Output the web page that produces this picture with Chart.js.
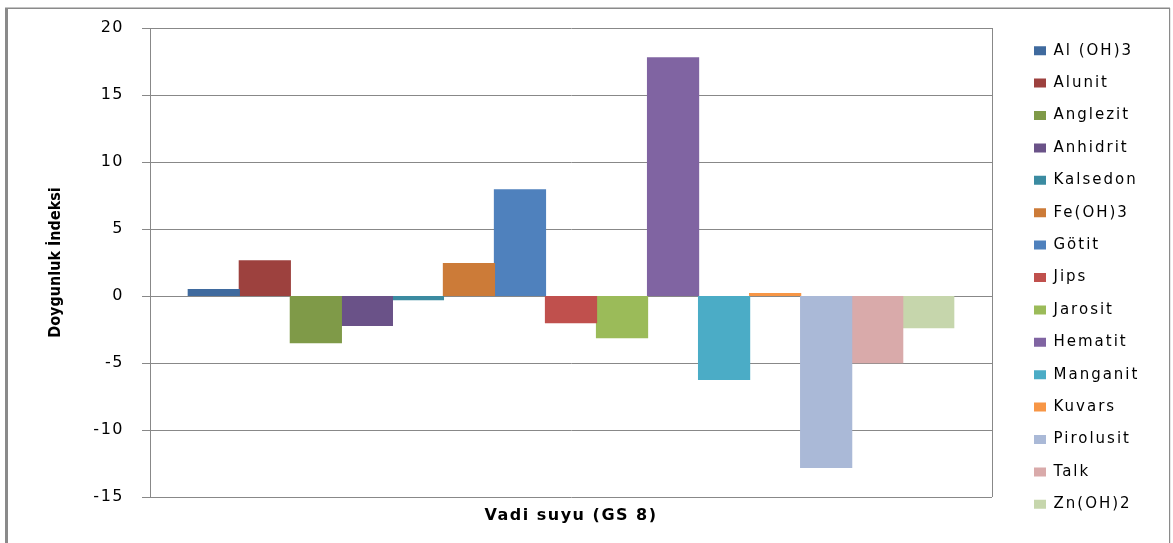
<!DOCTYPE html>
<html>
<head>
<meta charset="utf-8">
<title>Doygunluk İndeksi – Vadi suyu (GS 8)</title>
<script src="https://cdn.jsdelivr.net/npm/chart.js@4/dist/chart.umd.min.js"></script>
<style>
  html, body { margin: 0; padding: 0; background: #ffffff; }
  #wrap { width: 1173px; height: 543px; position: relative; }
</style>
</head>
<body>
<div id="wrap"><canvas id="chart" width="1173" height="543"></canvas></div>
<script>
// Sample point
const categories = ['Vadi suyu (GS 8)'];

// Minerals (one bar each)
const minerals = [
  'Al (OH)3', 'Alunit', 'Anglezit', 'Anhidrit', 'Kalsedon', 'Fe(OH)3', 'Götit',
  'Jips', 'Jarosit', 'Hematit', 'Manganit', 'Kuvars', 'Pirolusit', 'Talk', 'Zn(OH)2'
];

// Saturation index of each mineral
const saturationIndex = [
  0.47, 2.63, -3.49, -2.2, -0.28, 2.41, 7.93,
  -1.98, -3.1, 17.78, -6.22, 0.17, -12.8, -4.98, -2.37
];

// Bar fill colours, one per mineral
const mineralColors = [
  '#3F6A9E', '#9D413E', '#7F9A48', '#6A5288', '#3B8BA1', '#CC7B38', '#4F81BD',
  '#C0504D', '#9BBB59', '#8064A2', '#4BACC6', '#F79646', '#AAB9D7', '#D9AAAA', '#C6D6AC'
];

// Value axis ticks
const yTickValues = [-15, -10, -5, 0, 5, 10, 15, 20];

const W = 1173, H = 543;
const PLOT_LEFT = 150, PLOT_RIGHT = 992, PLOT_TOP = 28, PLOT_BOTTOM = 497;
const PAD_LEFT = 8;
const LEGEND_W = W - PLOT_RIGHT;
const LEGEND_PAD = 17.4;
const LEGEND_BOX_X = 1034;
const LEGEND_FIRST_Y = 50.7;
const LEGEND_FONT = 15;
const GRID = '#888888';

function withSpacing(fn, spacing) {
  return function (...args) {
    const c = this.ctx;
    c.save();
    c.letterSpacing = spacing;
    fn.apply(this, args);
    c.restore();
  };
}

// Fixes legend geometry and per-element letter spacing, draws the frame
const layoutTweaks = {
  id: 'layoutTweaks',
  beforeLayout(chart) {
    const lg = chart.legend;
    if (lg && !lg.__tuned) {
      const fit = lg.fit;
      lg.fit = function () { fit.call(this); this.width = LEGEND_W; };
      lg.draw = withSpacing(lg.draw, '2px');
      lg.__tuned = true;
    }
  },
  afterLayout(chart) {
    const lg = chart.legend;
    if (lg) {
      lg.left = LEGEND_BOX_X - LEGEND_PAD;
      lg.right = W;
      lg.width = lg.right - lg.left;
      lg.top = LEGEND_FIRST_Y - LEGEND_FONT / 2 - LEGEND_PAD;
      lg.bottom = H;
      lg.height = lg.bottom - lg.top;
    }
    const y = chart.scales.y, x = chart.scales.x;
    if (y && !y.__tuned) { y.drawLabels = withSpacing(y.drawLabels, '1.5px'); y.__tuned = true; }
    if (x && !x.__tuned) { x.drawLabels = withSpacing(x.drawLabels, '1.5px'); x.__tuned = true; }
  },
  afterDraw(chart) {
    const c = chart.ctx, a = chart.chartArea;
    c.save();
    // right edge of the plot area
    c.strokeStyle = GRID;
    c.lineWidth = 1;
    c.beginPath();
    c.moveTo(Math.round(a.right) + 0.5, a.top);
    c.lineTo(Math.round(a.right) + 0.5, a.bottom);
    c.stroke();
    // outer chart frame
    c.fillStyle = '#8a8a8a';
    c.fillRect(5, 8, 3, H - 8);
    c.fillRect(5, 7.5, 1165, 1.5);
    c.fillRect(1169, 8, 1.2, H - 8);
    c.restore();
  }
};

const datasets = minerals.map((name, i) => ({
  label: name,
  data: [saturationIndex[i]],
  backgroundColor: mineralColors[i],
  borderWidth: 0,
  inflateAmount: 0.6,
  categoryPercentage: 15 / 16.5,
  barPercentage: 1.0
}));

new Chart(document.getElementById('chart'), {
  type: 'bar',
  data: { labels: categories, datasets },
  plugins: [layoutTweaks],
  options: {
    responsive: false,
    devicePixelRatio: 1,
    animation: false,
    layout: { padding: { left: PAD_LEFT, top: PLOT_TOP, right: 0, bottom: 0 } },
    plugins: {
      tooltip: { enabled: false },
      legend: {
        position: 'right',
        align: 'start',
        labels: {
          color: '#000000',
          font: { family: "'DejaVu Sans', sans-serif", size: LEGEND_FONT },
          boxWidth: 12,
          boxHeight: 9,
          padding: LEGEND_PAD
        }
      }
    },
    scales: {
      x: {
        grid: { display: false, drawTicks: false, tickLength: 0 },
        border: { display: false },
        ticks: {
          color: '#000000',
          font: { family: "'DejaVu Sans', sans-serif", size: 16, weight: 'bold', lineHeight: 1.2 },
          padding: 9
        },
        afterFit(scale) { scale.height = H - PLOT_BOTTOM; }
      },
      y: {
        min: yTickValues[0],
        max: yTickValues[yTickValues.length - 1],
        afterBuildTicks(scale) { scale.ticks = yTickValues.map(v => ({ value: v })); },
        ticks: {
          color: '#000000',
          font: { family: "'DejaVu Sans', sans-serif", size: 16 },
          padding: 18
        },
        grid: { color: GRID, lineWidth: 1, drawTicks: true, tickLength: 8, tickColor: GRID },
        border: { display: true, color: GRID, width: 1 },
        title: {
          display: true,
          text: 'Doygunluk İndeksi',
          color: '#000000',
          font: { family: "'DejaVu Sans Condensed', 'Liberation Sans Narrow', sans-serif", size: 16, weight: 'bold', lineHeight: 1.2 },
          padding: { top: 38, bottom: 0 }
        },
        afterFit(scale) { scale.width = PLOT_LEFT - PAD_LEFT; }
      }
    }
  }
});
</script>
</body>
</html>
